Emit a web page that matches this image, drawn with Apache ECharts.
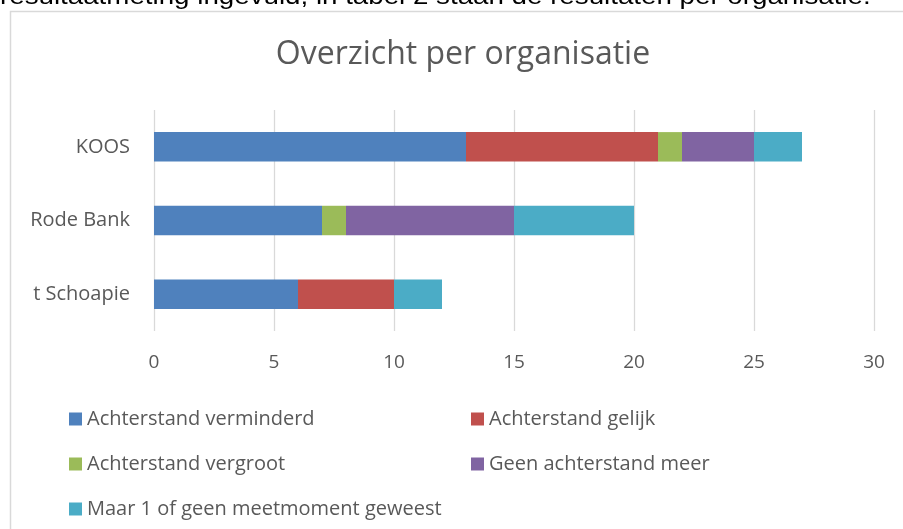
<!DOCTYPE html>
<html><head><meta charset="utf-8">
<script src="https://cdn.jsdelivr.net/npm/echarts@6/dist/echarts.min.js"></script>
<style>html,body{margin:0;padding:0;background:#fff}#c{width:903px;height:529px}</style>
</head><body><div id="c"></div>
<script>
const categories = ['t Schoapie', 'Rode Bank', 'KOOS'];
const seriesNames = ['Achterstand verminderd', 'Achterstand gelijk', 'Achterstand vergroot', 'Geen achterstand meer', 'Maar 1 of geen meetmoment geweest'];
const verminderd = [6, 7, 13];
const gelijk = [4, 0, 8];
const vergroot = [0, 1, 1];
const geenMeer = [0, 7, 3];
const maar1 = [2, 5, 2];
const colors = ['#4f81bd', '#c0504d', '#9bbb59', '#8064a2', '#4bacc6'];
const values = [verminderd, gelijk, vergroot, geenMeer, maar1];
const legendPos = [[69, 416], [471, 416], [69, 461], [471, 461], [69, 506]];

const font = "'Open Sans', 'Noto Sans', sans-serif";
const chart = echarts.init(document.getElementById('c'));
chart.setOption({
  animation: false,
  title: {
    text: 'Overzicht per organisatie', left: 458, top: 34, textAlign: 'center',
    textStyle: { fontFamily: font, fontSize: 32, fontWeight: 'normal', color: '#595959' }
  },
  graphic: [
    { type: 'rect', shape: { x: 10.5, y: 11.5, width: 1000, height: 600 }, style: { fill: 'none', stroke: '#d9d9d9', lineWidth: 1.5 } },
    { type: 'text', x: 0, y: -3, style: { text: 'resultaatmeting ingevuld, in tabel 2 staan de resultaten per organisatie.', font: "24px 'Liberation Sans', Arial, sans-serif", fill: '#000', verticalAlign: 'middle' }, scaleX: 1.155 }
  ],
  legend: seriesNames.map((n, i) => ({
    data: [n], left: legendPos[i][0], top: legendPos[i][1] - 13, itemWidth: 13, itemHeight: 13, padding: [6, 0, 6, 0],
    icon: 'rect', textStyle: { fontFamily: font, fontSize: 20, color: '#595959' }
  })),
  grid: { left: 154, right: 29, top: 110, bottom: 198, containLabel: false },
  xAxis: {
    type: 'value', min: 0, max: 30, interval: 5,
    axisLine: { show: false }, axisTick: { show: false },
    splitLine: { lineStyle: { color: '#d9d9d9', width: 1.3 } },
    axisLabel: { fontFamily: font, fontSize: 19, color: '#595959', margin: 22 }
  },
  yAxis: {
    type: 'category', data: categories,
    axisLine: { show: false }, axisTick: { show: false },
    axisLabel: { fontFamily: font, fontSize: 20, color: '#595959', margin: 24 }
  },
  series: seriesNames.map((n, i) => ({
    name: n, type: 'bar', stack: 'total', data: values[i], barCategoryGap: '60%',
    itemStyle: { color: colors[i] }
  }))
});
</script></body></html>
